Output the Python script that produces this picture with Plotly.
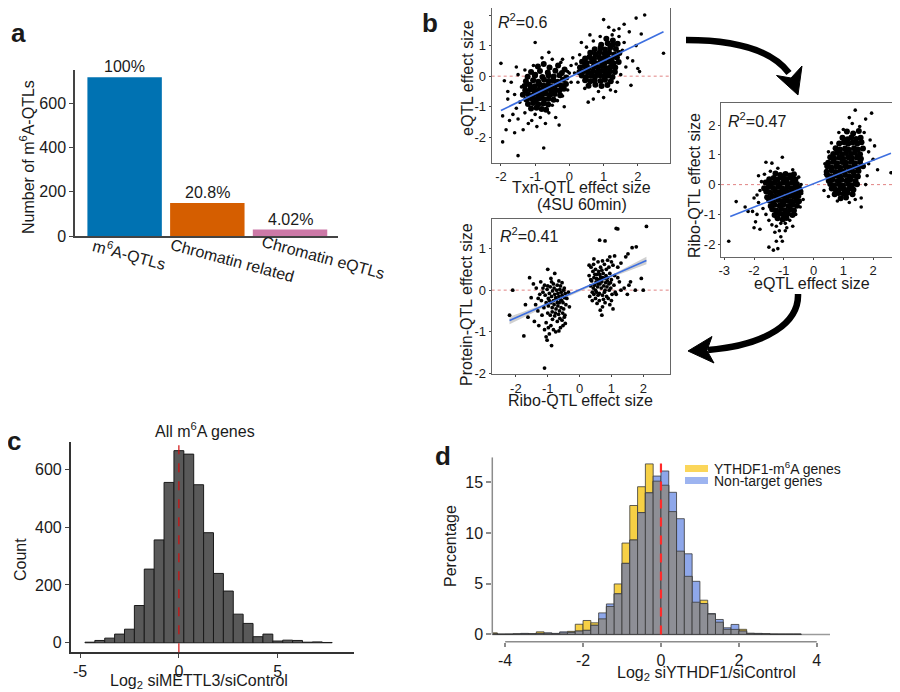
import plotly.graph_objects as go

# The page body has an 8px margin; positions below are page pixels of the 900x692 reference.
OX, OY = 8, 8
FW, FH = 892, 684
FONT = "Liberation Sans, Arial, sans-serif"

# ---------------- DATA ----------------
# Panel a
a_categories = ["m<sup>6</sup>A-QTLs", "Chromatin related", "Chromatin eQTLs"]
a_counts = [718, 149, 29]
a_labels = ["100%", "20.8%", "4.02%"]
a_colors = ["#0072B2", "#D55E00", "#CC79A7"]
a_yticks = [0, 200, 400, 600]

# Panel b1: Txn-QTL (x) vs eQTL (y) — dense cores and scattered points
b1_core = [
    (-0.92,0.32),(-0.58,0.28),(-0.33,0.35),(-0.14,0.22),(-0.75,0.4),
    (-1.12,0.14),(-0.86,0.17),(-0.63,0.12),(-0.41,0.18),(-0.22,0.1),(-1.0,0.05),
    (-1.22,-0.02),(-1.01,0.01),(-0.79,-0.03),(-0.61,0.02),(-0.46,-0.01),(-0.29,0.03),(-0.09,-0.04),
    (-1.27,-0.17),(-1.06,-0.13),(-0.91,-0.18),(-0.74,-0.12),(-0.6,-0.16),(-0.47,-0.14),(-0.34,-0.18),(-0.19,-0.12),
    (-1.31,-0.32),(-1.16,-0.28),(-1.01,-0.33),(-0.87,-0.27),(-0.76,-0.31),(-0.63,-0.29),(-0.51,-0.33),(-0.37,-0.27),(-0.24,-0.31),(-0.1,-0.26),
    (-1.29,-0.46),(-1.14,-0.43),(-1.03,-0.47),(-0.89,-0.44),(-0.79,-0.48),(-0.67,-0.42),(-0.54,-0.46),(-0.41,-0.44),(-0.29,-0.47),(-0.16,-0.41),
    (-1.36,-0.61),(-1.21,-0.58),(-1.06,-0.62),(-0.93,-0.59),(-0.81,-0.63),(-0.69,-0.57),(-0.56,-0.61),(-0.43,-0.58),(-0.27,-0.62),
    (-1.26,-0.76),(-1.11,-0.73),(-0.97,-0.77),(-0.86,-0.72),(-0.73,-0.76),(-0.61,-0.74),(-0.46,-0.77),
    (-1.21,-0.91),(-1.06,-0.88),(-0.91,-0.92),(-0.76,-0.89),(-0.62,-0.93),
    (-1.12,-1.06),(-0.96,-1.03),(-0.81,-1.07),(-0.68,-1.1),
    (1.08,1.22),(1.27,1.17),
    (0.93,1.03),(1.12,1.08),(1.26,1.02),(1.41,1.06),
    (0.74,0.88),(0.91,0.93),(1.04,0.87),(1.19,0.92),(1.36,0.89),
    (0.61,0.77),(0.76,0.72),(0.89,0.78),(1.03,0.73),(1.16,0.77),(1.31,0.71),(1.46,0.76),
    (0.46,0.58),(0.59,0.63),(0.72,0.57),(0.87,0.62),(0.99,0.58),(1.11,0.63),(1.24,0.57),(1.39,0.61),
    (0.37,0.47),(0.51,0.43),(0.66,0.48),(0.77,0.42),(0.91,0.46),(1.03,0.43),(1.16,0.48),(1.29,0.42),(1.44,0.46),
    (0.31,0.28),(0.45,0.33),(0.56,0.27),(0.71,0.32),(0.83,0.28),(0.96,0.33),(1.07,0.27),(1.21,0.31),(1.34,0.28),
    (0.29,0.13),(0.44,0.17),(0.55,0.12),(0.69,0.16),(0.81,0.13),(0.94,0.17),(1.06,0.12),(1.19,0.16),(1.33,0.14),
    (0.36,0.02),(0.49,-0.03),(0.64,0.01),(0.75,-0.02),(0.89,0.03),(1.01,-0.01),(1.14,0.02),(1.26,-0.03),
    (0.46,-0.13),(0.61,-0.17),(0.74,-0.14),(0.91,-0.16),(1.04,-0.12),(1.21,-0.17),
    (0.56,-0.31),(0.76,-0.28),(0.94,-0.32),(1.11,-0.29),
]
b1_sparse = [
    (-1.45,-0.85),(-1.55,-1.05),(-1.4,-0.35),(-1.6,-0.6),(-1.7,-0.2),(-1.8,-0.75),(-1.65,-1.25),(-1.5,-1.4),
    (-1.3,-1.2),(-1.0,-1.25),(-0.85,-1.35),(-0.6,-1.2),(-0.5,-0.95),(-0.35,-0.8),(-0.2,-0.65),(-0.05,-0.45),
    (0.05,-0.2),(-0.05,0.15),(-0.25,0.45),(-0.5,0.55),(-0.8,0.6),(-1.05,0.35),(-1.3,0.2),(-1.5,0.05),
    (-1.9,-0.15),(-1.75,-1.45),(-1.85,-1.75),(-1.95,-1.3),(-1.95,-2.15),(-1.5,-2.6),(-0.75,-2.35),(-2.0,0.42),
    (-1.0,1.1),(-0.6,0.78),(-0.95,-1.65),(-1.2,-1.55),(-0.4,-1.35),(-0.15,-1.0),(-1.6,-1.85),(-1.35,-1.75),
    (-1.8,-0.5),(-1.55,0.3),(-1.1,-1.45),(-0.2,0.55),(-0.7,-1.55),(-0.3,-1.6),
    (1.3,1.5),(1.15,1.6),(1.45,1.3),(1.6,1.1),(1.55,0.85),(1.7,0.6),(1.65,0.3),(1.5,0.05),
    (1.4,-0.2),(1.35,-0.5),(1.2,-0.45),(0.85,-0.5),(0.7,-0.75),(0.45,-0.4),(0.25,-0.2),(0.15,0.1),
    (0.2,0.4),(0.3,0.7),(0.5,0.95),(0.7,1.15),(0.9,1.3),(1.0,1.85),(1.95,1.9),(2.2,2.0),
    (2.75,0.75),(2.1,1.38),(2.05,0.15),(1.85,0.5),(1.95,1.0),(1.75,1.45),(1.6,1.7),(0.6,1.35),
    (0.35,1.1),(1.0,-0.7),(0.55,-0.85),(0.1,0.6),(1.8,-0.3),(2.0,0.25),(1.45,1.55),(1.25,1.35),
    (0.05,0.35),(0.0,0.1),
]
b1_fit_x = [-2.0, 2.75]
b1_fit_y = [-1.12, 1.45]

# Panel b2: eQTL (x) vs Ribo-QTL (y)
b2_core = [
    (-1.28,0.37),(-1.12,0.32),(-0.94,0.36),(-0.79,0.31),(-0.66,0.35),
    (-1.49,0.18),(-1.34,0.22),(-1.21,0.17),(-1.04,0.21),(-0.91,0.18),(-0.76,0.22),(-0.61,0.17),
    (-1.61,0.07),(-1.44,0.03),(-1.31,0.06),(-1.14,0.02),(-1.01,0.07),(-0.86,0.03),(-0.71,0.06),(-0.56,0.02),
    (-1.66,-0.12),(-1.51,-0.08),(-1.36,-0.11),(-1.19,-0.07),(-1.06,-0.12),(-0.89,-0.09),(-0.76,-0.12),(-0.61,-0.08),(-0.49,-0.11),
    (-1.59,-0.23),(-1.46,-0.27),(-1.29,-0.22),(-1.16,-0.26),(-0.99,-0.23),(-0.86,-0.27),(-0.69,-0.24),(-0.56,-0.27),(-0.44,-0.23),
    (-1.56,-0.42),(-1.39,-0.38),(-1.26,-0.41),(-1.09,-0.37),(-0.96,-0.42),(-0.79,-0.38),(-0.66,-0.41),(-0.51,-0.38),
    (-1.49,-0.53),(-1.36,-0.57),(-1.19,-0.52),(-1.06,-0.56),(-0.89,-0.53),(-0.76,-0.57),(-0.59,-0.53),(-0.49,-0.56),
    (-1.44,-0.72),(-1.31,-0.68),(-1.14,-0.71),(-1.01,-0.67),(-0.84,-0.72),(-0.71,-0.68),(-0.56,-0.71),
    (-1.39,-0.83),(-1.26,-0.87),(-1.09,-0.82),(-0.96,-0.86),(-0.79,-0.83),(-0.66,-0.87),
    (-1.31,-1.02),(-1.14,-0.98),(-1.01,-1.01),(-0.86,-0.97),(-0.71,-1.02),
    (-1.21,-1.13),(-1.04,-1.17),(-0.91,-1.12),
    (1.12,1.78),(1.33,1.72),(1.52,1.8),
    (0.97,1.57),(1.14,1.52),(1.27,1.58),(1.43,1.53),(1.58,1.57),
    (0.86,1.38),(1.02,1.42),(1.16,1.37),(1.31,1.41),(1.47,1.38),(1.61,1.42),
    (0.74,1.22),(0.89,1.18),(1.06,1.21),(1.19,1.17),(1.36,1.22),(1.49,1.18),(1.66,1.21),
    (0.66,1.03),(0.79,1.07),(0.96,1.02),(1.09,1.06),(1.26,1.03),(1.39,1.07),(1.56,1.02),
    (0.56,0.92),(0.69,0.88),(0.86,0.91),(0.99,0.87),(1.16,0.92),(1.29,0.88),(1.46,0.91),(1.59,0.87),
    (0.49,0.73),(0.66,0.77),(0.79,0.72),(0.96,0.76),(1.09,0.73),(1.26,0.77),(1.39,0.72),(1.56,0.76),
    (0.46,0.62),(0.59,0.58),(0.76,0.61),(0.89,0.57),(1.06,0.62),(1.19,0.58),(1.36,0.61),(1.49,0.57),(1.66,0.62),
    (0.44,0.43),(0.61,0.47),(0.74,0.42),(0.91,0.46),(1.04,0.43),(1.21,0.47),(1.34,0.42),(1.51,0.46),
    (0.46,0.32),(0.59,0.28),(0.76,0.31),(0.89,0.27),(1.06,0.32),(1.19,0.28),(1.36,0.31),(1.49,0.27),
    (0.51,0.13),(0.64,0.17),(0.81,0.12),(0.94,0.16),(1.11,0.13),(1.24,0.17),(1.41,0.12),
    (0.56,0.02),(0.69,-0.02),(0.86,0.01),(0.99,-0.03),(1.16,0.02),(1.29,-0.02),(1.46,0.01),
    (0.61,-0.13),(0.74,-0.17),(0.91,-0.12),(1.04,-0.16),(1.21,-0.13),(1.34,-0.17),
    (0.71,-0.32),(0.84,-0.28),(1.01,-0.31),(1.14,-0.27),(1.31,-0.32),
    (0.91,-0.46),(1.09,-0.43),
]
b2_sparse = [
    (-1.8,-0.2),(-1.75,0.1),(-1.85,-0.6),(-1.7,-0.8),(-1.6,-1.0),(-1.5,-1.2),(-1.4,-1.35),(-1.25,-1.4),
    (-1.1,-1.3),(-0.95,-1.3),(-0.8,-1.2),(-0.6,-1.0),(-0.45,-0.75),(-0.4,-0.3),(-0.42,0.0),(-0.5,0.25),
    (-0.7,0.5),(-1.2,0.55),(-1.45,0.45),(-1.65,0.35),(-2.0,-0.45),(-2.2,-0.9),(-1.95,-1.25),(-1.3,-1.6),
    (-1.15,-1.55),(-0.9,-1.45),(-0.7,-1.4),(-1.25,-1.9),(-0.35,-0.5),(-2.3,-0.75),
    (-2.85,-1.9),(-2.6,-0.57),(-2.0,-1.45),(-1.8,-1.5),(-1.5,-2.1),(-1.35,-2.2),(-1.2,-2.15),(-1.1,-1.75),
    (-1.05,-1.9),(-0.95,-1.55),(-1.85,0.3),(-1.6,0.75),(-1.4,0.72),(-1.05,0.92),(-1.9,-0.35),(-2.05,-0.9),(-1.9,-1.0),
    (1.4,2.5),(1.95,2.4),(1.75,2.2),(1.3,2.05),(1.55,1.95),(1.0,1.85),(1.7,1.75),(1.9,1.5),
    (1.85,1.1),(2.0,0.85),(2.15,0.5),(2.6,0.4),(1.8,0.3),(1.75,0.0),(1.6,-0.45),(1.6,-0.75),
    (1.4,-0.5),(0.5,-0.4),(0.35,-0.2),(0.4,0.35),(0.38,0.7),(0.5,1.1),(0.6,1.4),(1.2,-0.6),
    (0.8,-0.55),(1.85,0.7),(2.05,1.3),(1.2,2.25),(0.85,1.75),
]
b2_fit_x = [-2.8, 2.6]
b2_fit_y = [-1.07, 1.05]

# Panel b3: Ribo-QTL (x) vs Protein-QTL (y)
b3_points = [
    (-1.57,0.3),(-1.45,0.15),(-1.36,0.05),(-1.52,-0.18),(-1.22,0.2),(-1.31,-0.5),(-1.18,-0.6),(-1.42,-0.75),
    (-1.62,-0.65),(-1.1,-0.95),(-1.28,-0.85),(-1.0,0.5),(-0.78,0.4),(-0.9,0.28),(-1.1,0.12),(-0.65,0.22),
    (-0.55,0.18),(-0.48,0.05),
    (-1.15,-0.05),(-1.08,-0.12),(-1.02,0.02),(-0.98,-0.2),(-0.95,-0.08),(-0.92,0.08),(-0.88,-0.15),(-0.85,-0.02),
    (-0.82,-0.25),(-0.8,0.05),(-0.78,-0.1),(-0.75,-0.18),(-0.72,0.0),(-0.7,-0.3),(-0.68,-0.08),(-0.65,-0.15),
    (-0.62,0.02),(-0.6,-0.22),(-0.58,-0.05),(-0.55,-0.12),(-0.52,-0.3),(-0.5,0.0),(-0.47,-0.18),(-0.45,-0.08),
    (-1.05,-0.3),(-0.98,-0.38),(-0.9,-0.3),(-0.86,-0.42),(-0.8,-0.35),(-0.74,-0.45),(-0.68,-0.38),(-0.63,-0.5),
    (-0.58,-0.42),(-0.53,-0.55),(-0.5,-0.45),(-0.46,-0.6),(-0.43,-0.35),
    (-1.2,-0.25),(-1.25,-0.1),(-1.12,-0.42),(-1.0,-0.55),(-0.92,-0.6),(-0.85,-0.7),(-0.78,-0.62),(-0.7,-0.75),
    (-0.62,-0.68),(-0.55,-0.72),(-0.48,-0.65),(-0.45,-0.8),
    (-1.05,-0.78),(-0.98,-0.9),(-0.9,-0.85),(-0.82,-0.95),(-0.75,-1.0),(-0.6,-0.9),(-0.52,-0.85),
    (-1.05,-1.12),(-1.02,-1.2),(-0.88,-1.33),(-0.65,-0.98),(-0.95,-1.05),
    (-0.82,0.15),(-0.7,0.12),(-0.6,0.1),(-0.88,0.2),(-1.0,0.1),(-0.95,-0.25),(-0.72,-0.22),(-0.64,-0.3),
    (-0.56,-0.25),(-0.86,-0.52),(-0.76,-0.55),(-0.66,-0.58),
    (-1.3,-0.2),(-1.38,-0.35),(-1.15,0.05),(-1.7,-0.35),(-1.75,-1.1),(-2.1,0.0),(-2.2,-0.6),(-1.1,-1.87),
    (-0.35,-0.05),(-0.4,-0.2),(-0.32,-0.4),
    (0.3,0.35),(0.35,0.1),(0.38,0.22),(0.4,-0.05),(0.42,0.45),(0.45,0.3),(0.47,0.12),(0.5,0.0),
    (0.52,0.2),(0.55,0.38),(0.57,0.08),(0.6,0.25),(0.62,-0.08),(0.64,0.15),(0.66,0.32),(0.68,0.05),
    (0.7,0.2),(0.72,-0.12),(0.74,0.4),(0.76,0.1),(0.78,0.28),(0.8,0.0),(0.82,0.18),(0.84,0.5),
    (0.86,0.08),(0.88,0.3),(0.9,-0.2),(0.92,0.15),(0.95,0.4),(0.98,0.05),(1.0,0.25),(1.02,-0.1),
    (1.05,0.6),(1.08,0.12),(1.1,0.35),(1.12,-0.05),
    (0.32,-0.15),(0.36,0.55),(0.44,0.62),(0.5,0.5),(0.58,0.68),(0.66,0.55),(0.72,0.7),(0.78,0.62),
    (0.88,0.72),(0.95,0.8),(1.0,0.68),(0.92,0.55),(0.6,0.45),(0.7,0.48),
    (0.4,-0.25),(0.5,-0.2),(0.55,-0.32),(0.62,-0.25),(0.65,-0.48),(0.72,-0.4),(0.8,-0.3),(0.85,-0.15),
    (0.95,-0.35),(1.0,-0.25),(0.75,-0.22),(0.58,-0.12),(0.48,0.38),(0.53,0.28),(0.63,0.38),(0.68,0.25),
    (0.73,0.3),(0.83,0.35),(0.87,0.22),(0.97,0.18),(0.43,0.05),(0.53,-0.05),(0.58,0.15),(0.78,-0.05),
    (0.93,0.0),(0.35,0.25),(0.45,-0.1),
    (0.63,1.2),(0.8,1.18),(1.15,1.48),(1.2,1.47),(2.1,1.53),(1.78,1.04),(1.65,1.02),(1.52,0.87),
    (1.45,0.8),(1.3,0.65),(1.2,0.55),(1.25,0.2),(1.3,0.0),(1.4,0.05),(1.5,-0.1),(1.55,0.12),
    (1.75,0.0),(1.94,0.28),(2.0,0.0),(1.15,-0.1),(1.2,0.3),(1.1,0.82),(0.7,-0.6),(1.05,-0.45),
    (0.45,0.75),(0.3,0.6),(1.6,0.2),
]
b3_fit_x = [-2.2, 2.1]
b3_fit_y = [-0.73, 0.71]
b3_ci_x = [-2.2, -1.1, 0.0, 1.05, 2.1]
b3_ci_lo = [-0.82, -0.41, -0.04, 0.32, 0.62]
b3_ci_hi = [-0.64, -0.33, 0.02, 0.38, 0.80]

# Panel c: histogram of all m6A genes
c_centers = [-4.5, -4.0, -3.5, -3.0, -2.5, -2.0, -1.5, -1.0, -0.5, 0.0, 0.5, 1.0, 1.5,
             2.0, 2.5, 3.0, 3.5, 4.0, 4.5, 5.0, 5.5, 6.0, 6.5, 7.0, 7.5]
c_counts = [2, 8, 16, 30, 47, 129, 255, 356, 555, 665, 653, 547, 381,
            240, 179, 99, 67, 21, 30, 6, 9, 8, 2, 3, 1]

# Panel d: overlaid percentage histograms
d_centers = [-4.3, -4.1, -3.9, -3.7, -3.5, -3.3, -3.1, -2.9, -2.7, -2.5, -2.3, -2.1, -1.9, -1.7,
             -1.5, -1.3, -1.1, -0.9, -0.7, -0.5, -0.3, -0.1, 0.1, 0.3, 0.5, 0.7, 0.9, 1.1,
             1.3, 1.5, 1.7, 1.9, 2.1, 2.3, 2.5, 2.7, 2.9, 3.1, 3.3, 3.5]
d_ythdf1 = [0.15, 0.0, 0.0, 0.05, 0.05, 0.05, 0.25, 0.1, 0.05, 0.15, 0.3, 1.0, 1.37, 1.14,
            1.53, 2.75, 4.97, 9.0, 12.7, 14.55, 16.8, 15.1, 14.7, 12.1, 8.2, 5.72, 3.17, 3.37,
            2.0, 1.2, 0.5, 0.49, 0.5, 0.1, 0.05, 0.05, 0.0, 0.0, 0.0, 0.0]
d_nontarget = [0.05, 0.02, 0.03, 0.03, 0.1, 0.05, 0.1, 0.15, 0.1, 0.25, 0.2, 0.33, 0.4, 0.9,
               2.12, 3.0, 4.0, 7.0, 9.3, 12.0, 13.95, 15.6, 16.1, 14.0, 11.4, 7.94, 5.23, 3.04,
               2.05, 1.47, 0.65, 0.98, 0.33, 0.1, 0.1, 0.05, 0.04, 0.03, 0.03, 0.03]
d_legend = ["YTHDF1-m<sup>6</sup>A genes", "Non-target genes"]

# ---------------- LAYOUT HELPERS ----------------
def fx(X):
    return (X - OX) / FW

def fy(Y):
    return 1 - (Y - OY) / FH

def clamp(v):
    return min(1.0, max(0.0, v))

def dx(a, b):
    return [clamp(fx(a)), clamp(fx(b))]

def dy(top, bottom):
    return [clamp(fy(bottom)), clamp(fy(top))]

def P(x, y):
    return f"{fx(x):.5f},{fy(y):.5f}"

TICKFONT = dict(family=FONT, size=16, color="#1a1a1a")
TICKFONT_B = dict(family=FONT, size=13, color="#1a1a1a")

def box_axis(domain, rng, ticks, anchor):
    return dict(domain=domain, range=rng, anchor=anchor, tickvals=ticks,
                ticktext=[str(t) for t in ticks], ticks="outside", ticklen=2,
                tickcolor="#444", showline=True, mirror=True, linecolor="#666",
                linewidth=1, showgrid=False, zeroline=False, tickfont=TICKFONT_B,
                automargin=False)

fig = go.Figure()

# Panel a bars
fig.add_trace(go.Bar(x=[0, 1, 2], y=a_counts, marker=dict(color=a_colors, line=dict(width=0)),
                     width=0.9, xaxis="x", yaxis="y"))

# Panel b scatter plots
def add_scatter(points, xa, ya, size):
    fig.add_trace(go.Scatter(x=[p[0] for p in points], y=[p[1] for p in points], mode="markers",
                             marker=dict(size=size, color="black", line=dict(width=0)),
                             xaxis=xa, yaxis=ya))

FIT_LINE = dict(color="#3D6FE0", width=1.6)
add_scatter(b1_core, "x2", "y2", 6)
add_scatter(b1_sparse, "x2", "y2", 3.6)
fig.add_trace(go.Scatter(x=b1_fit_x, y=b1_fit_y, mode="lines", line=FIT_LINE, xaxis="x2", yaxis="y2"))
add_scatter(b2_core, "x3", "y3", 6)
add_scatter(b2_sparse, "x3", "y3", 3.6)
fig.add_trace(go.Scatter(x=b2_fit_x, y=b2_fit_y, mode="lines", line=FIT_LINE, xaxis="x3", yaxis="y3"))
fig.add_trace(go.Scatter(x=b3_ci_x + b3_ci_x[::-1], y=b3_ci_hi + b3_ci_lo[::-1], fill="toself",
                         fillcolor="rgba(170,170,170,0.55)", line=dict(width=0), mode="lines",
                         xaxis="x4", yaxis="y4"))
add_scatter(b3_points, "x4", "y4", 3.8)
fig.add_trace(go.Scatter(x=b3_fit_x, y=b3_fit_y, mode="lines", line=FIT_LINE, xaxis="x4", yaxis="y4"))

# Panel c histogram
fig.add_trace(go.Bar(x=c_centers, y=c_counts, width=0.5,
                     marker=dict(color="#595959", line=dict(color="#1a1a1a", width=1)),
                     xaxis="x5", yaxis="y5"))

# Panel d overlaid histograms
d_overlap = [min(a, b) for a, b in zip(d_ythdf1, d_nontarget)]
bar_line = dict(color="#3a3a3a", width=0.8)
fig.add_trace(go.Bar(x=d_centers, y=d_ythdf1, width=0.2, marker=dict(color="#F6D045", line=bar_line),
                     xaxis="x6", yaxis="y6"))
fig.add_trace(go.Bar(x=d_centers, y=d_nontarget, width=0.2, marker=dict(color="#8EA7EA", line=bar_line),
                     xaxis="x6", yaxis="y6"))
fig.add_trace(go.Bar(x=d_centers, y=d_overlap, width=0.2, marker=dict(color="#8E8F96", line=bar_line),
                     xaxis="x6", yaxis="y6"))

layout = dict(
    width=FW, height=FH, margin=dict(l=0, r=0, t=0, b=0, pad=0, autoexpand=False), autosize=False,
    paper_bgcolor="white", plot_bgcolor="white", showlegend=False, barmode="overlay",
    font=dict(family=FONT, size=16, color="#1a1a1a"),
)

# axes a
layout["xaxis"] = dict(domain=dx(75, 338), range=[-0.6, 2.58], anchor="y", showticklabels=False,
                       ticks="", showline=True, linecolor="#444", linewidth=1.5, showgrid=False,
                       zeroline=False, automargin=False)
layout["yaxis"] = dict(domain=dy(70, 236), range=[0, 751], anchor="x", tickvals=a_yticks,
                       ticks="outside", ticklen=4, tickcolor="#444", showline=True, linecolor="#444",
                       linewidth=1.5, showgrid=False, zeroline=False, tickfont=TICKFONT, automargin=False)
# axes b
layout["xaxis2"] = box_axis(dx(491.7, 670), [-2.27, 2.94], [-2, -1, 0, 1, 2], "y2")
layout["yaxis2"] = box_axis(dy(8.3, 162.7), [-2.83, 2.22], [-2, -1, 0, 1, 2], "x2")
layout["xaxis3"] = box_axis(dx(721, 899), [-3.11, 2.87], [-3, -2, -1, 0, 1, 2], "y3")
layout["yaxis3"] = box_axis(dy(103.3, 256.7), [-2.42, 2.73], [-2, -1, 0, 1, 2], "x3")
layout["xaxis4"] = box_axis(dx(491.7, 670), [-2.76, 2.84], [-2, -1, 0, 1, 2], "y4")
layout["yaxis4"] = box_axis(dy(219.3, 374.3), [-2.02, 1.70], [-2, -1, 0, 1], "x4")
# axes c
layout["xaxis5"] = dict(domain=dx(70.7, 354.3), range=[-5.47, 8.87], anchor="y5", tickvals=[-5, 0, 5],
                        ticktext=["-5", "0", "5"], ticks="outside", ticklen=4, tickcolor="#444",
                        showline=True, linecolor="#333", linewidth=1.5, showgrid=False, zeroline=False,
                        tickfont=TICKFONT, automargin=False)
layout["yaxis5"] = dict(domain=dy(441.7, 652.3), range=[-33, 696], anchor="x5", tickvals=[0, 200, 400, 600],
                        ticks="outside", ticklen=4, tickcolor="#444", showline=True, linecolor="#333",
                        linewidth=1.5, showgrid=False, zeroline=False, tickfont=TICKFONT, automargin=False)
# axes d
d_yrange = [-0.72, 17.45]
layout["xaxis6"] = dict(domain=dx(492.3, 830), range=[-4.33, 4.34], anchor="y6", tickvals=[-4, -2, 0, 2, 4],
                        ticktext=["-4", "-2", "0", "2", "4"], ticks="outside", ticklen=4, tickcolor="#8c8c8c",
                        tickwidth=1.5, showline=False, showgrid=False, zeroline=False, tickfont=TICKFONT,
                        automargin=False)
layout["yaxis6"] = dict(domain=dy(457.3, 641.7), range=d_yrange, anchor="x6", tickvals=[0, 5, 10, 15],
                        ticks="outside", ticklen=5, tickcolor="#8c8c8c", tickwidth=1.5, showline=False,
                        showgrid=False, zeroline=False, tickfont=TICKFONT, automargin=False)

shapes = []
# red dotted zero lines in scatter panels
for k in ["2", "3", "4"]:
    shapes.append(dict(type="line", xref=f"x{k} domain", yref=f"y{k}", x0=0, x1=1, y0=0, y1=0,
                       line=dict(color="rgba(215,90,90,0.75)", width=1, dash="dot"), layer="below"))
# panel c red dashed line
shapes.append(dict(type="line", xref="x5", yref="y5 domain", x0=0, x1=0, y0=0, y1=1,
                   line=dict(color="#D01010", width=1.2, dash="dash")))
# panel d axis lines, baseline, red dashed line
shapes.append(dict(type="line", xref="x6 domain", yref="y6", x0=0, x1=1, y0=0, y1=0,
                   line=dict(color="#9a9a9a", width=1.5), layer="below"))
shapes.append(dict(type="line", xref="x6", yref="y6 domain", x0=-4, x1=4, y0=0, y1=0,
                   line=dict(color="#8c8c8c", width=1.5)))
shapes.append(dict(type="line", xref="x6 domain", yref="y6", x0=0, x1=0, y0=0, y1=d_yrange[1],
                   line=dict(color="#8c8c8c", width=1.5)))
shapes.append(dict(type="line", xref="x6", yref="y6", x0=0, x1=0, y0=0, y1=d_yrange[1],
                   line=dict(color="#FF2A2A", width=2.2, dash="dash")))
# panel d legend swatches
shapes.append(dict(type="rect", xref="paper", yref="paper", x0=fx(685), x1=fx(708),
                   y0=fy(472), y1=fy(465), fillcolor="#FBD65A", line=dict(width=0)))
shapes.append(dict(type="rect", xref="paper", yref="paper", x0=fx(685), x1=fx(708),
                   y0=fy(484), y1=fy(477), fillcolor="#9DB4F0", line=dict(width=0)))
# curved arrows
shapes.append(dict(type="path", xref="paper", yref="paper",
                   path=f"M {P(686,40)} C {P(730,40)} {P(770,48)} {P(789,73)}",
                   line=dict(color="black", width=6.5)))
shapes.append(dict(type="path", xref="paper", yref="paper",
                   path=f"M {P(798,95)} L {P(776.5,75.5)} L {P(791,78)} L {P(802,66)} Z",
                   fillcolor="black", line=dict(color="black", width=1)))
shapes.append(dict(type="path", xref="paper", yref="paper",
                   path=f"M {P(798,294)} C {P(799,322)} {P(768,345)} {P(708,350)}",
                   line=dict(color="black", width=6.5)))
shapes.append(dict(type="path", xref="paper", yref="paper",
                   path=f"M {P(688,351)} L {P(712,336.5)} L {P(707,350.5)} L {P(714,363)} Z",
                   fillcolor="black", line=dict(color="black", width=1)))
layout["shapes"] = shapes

anns = []

def ann(text, x, y, size=16, xanchor="center", yanchor="middle", angle=0, color="#1a1a1a"):
    anns.append(dict(text=text, x=fx(x), y=fy(y), xref="paper", yref="paper", showarrow=False,
                     xanchor=xanchor, yanchor=yanchor, textangle=angle,
                     font=dict(family=FONT, size=size, color=color)))

# panel letters
ann("<b>a</b>", 18, 33, size=26)
ann("<b>b</b>", 430, 23, size=26)
ann("<b>c</b>", 14, 441, size=26)
ann("<b>d</b>", 443, 456, size=26)

# panel a
ann("Number of m<sup>6</sup>A-QTLs", 27, 157, angle=-90)
for i, lab in enumerate(a_labels):
    anns.append(dict(text=lab, x=i, y=a_counts[i], xref="x", yref="y", showarrow=False,
                     xanchor="center", yanchor="bottom", font=dict(family=FONT, size=16, color="#1a1a1a")))
a_tick_shift = [5, 25, 33]
a_tick_y = [254, 260, 258]
for i, cat in enumerate(a_categories):
    anns.append(dict(text=cat, x=i, y=fy(a_tick_y[i]), xref="x", yref="paper", showarrow=False,
                     xanchor="center", yanchor="middle", textangle=15, xshift=a_tick_shift[i],
                     font=dict(family=FONT, size=16, color="#1a1a1a")))

# panel b
ann("eQTL effect size", 467, 78, angle=-90)
ann("Txn-QTL effect size", 581.7, 188)
ann("(4SU 60min)", 581.7, 205)
ann("<i>R</i><sup>2</sup>=0.6", 496, 21, xanchor="left")
ann("Ribo-QTL effect size", 694, 186, angle=-90)
ann("eQTL effect size", 811.7, 283)
ann("<i>R</i><sup>2</sup>=0.47", 726, 120, xanchor="left")
ann("Protein-QTL effect size", 466, 305, angle=-90)
ann("Ribo-QTL effect size", 580.8, 400)
ann("<i>R</i><sup>2</sup>=0.41", 498, 235, xanchor="left")

# panel c
ann("All m<sup>6</sup>A genes", 205, 430)
ann("Count", 20, 560, angle=-90)
ann("Log<sub>2</sub> siMETTL3/siControl", 199, 681)

# panel d
ann("Percentage", 450, 546, angle=-90)
ann("Log<sub>2</sub> siYTHDF1/siControl", 706.7, 673)
ann(d_legend[0], 712, 468, size=14, xanchor="left")
ann(d_legend[1], 712, 480.5, size=14, xanchor="left")

layout["annotations"] = anns
fig.update_layout(**layout)
fig.write_html("out.html")
